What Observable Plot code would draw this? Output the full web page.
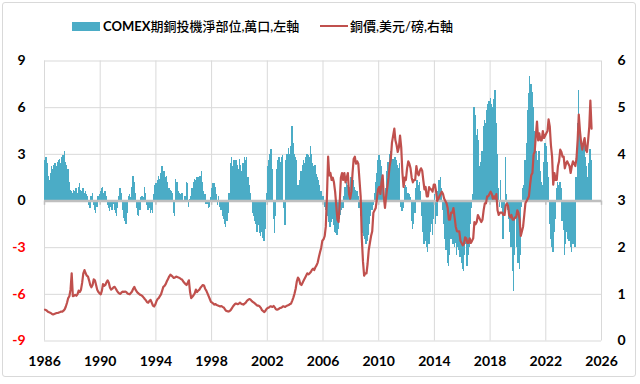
<!DOCTYPE html>
<html><head><meta charset="utf-8">
<script src="https://cdn.jsdelivr.net/npm/d3@7"></script>
<script src="https://cdn.jsdelivr.net/npm/@observablehq/plot@0.6"></script>
<style>
body{margin:0;background:#fff;}
#wrap{position:relative;width:640px;height:384px;overflow:hidden;font-family:Lato,"Noto Sans CJK TC",sans-serif;}
#frame{position:absolute;left:2px;top:2px;width:634px;height:375px;border:1px solid #d9d9d9;border-radius:3px;box-sizing:border-box;}
.sw{position:absolute;}
.lg{position:absolute;top:17px;font-size:13px;line-height:18px;color:#000;white-space:nowrap;font-family:Lato,"Noto Sans CJK TC",sans-serif;}
#chart{position:absolute;left:0;top:45px;}
</style></head>
<body>
<div id="wrap">
  <div id="frame"></div>
  <div class="sw" style="left:72px;top:22px;width:28px;height:9px;background:#4BACC6;"></div>
  <div class="lg" style="left:103px;"><b>COMEX</b><span style="font-weight:500">期銅投機淨部位,萬口,左軸</span></div>
  <div class="sw" style="left:320px;top:25px;width:28px;height:2px;background:#C0504D;"></div>
  <div class="lg" style="left:350px;"><span style="font-weight:500">銅價,美元/磅,右軸</span></div>
  <div id="chart"></div>
</div>
<script>
const startYear = 1986;
const xTickYears = [1986, 1990, 1994, 1998, 2002, 2006, 2010, 2014, 2018, 2022, 2026];
const leftTicks = [-9, -6, -3, 0, 3, 6, 9];
const rightTicks = [0, 1, 2, 3, 4, 5, 6];

// COMEX copper speculative net position, 10k contracts (monthly, from Jan 1986)
const netPos = [
  2.6, 2.8, 2.4, 1.6, 1.3, 1.8, 2.2, 2.0, 2.3, 2.4, 2.2, 2.5,
  2.6, 2.7, 2.4, 2.8, 2.9, 3.2, 2.5, 2.3, 2.0, 1.2, 0.7, 0.6,
  0.5, 0.7, 0.6, 0.8, 0.5, 0.9, 1.1, 0.7, 0.6, 0.8, 0.5, 0.6,
  0.4, 0.3, -0.3, -0.5, 0.3, 0.5, -0.3, -0.6, -0.8, -0.4, 0.3, 0.4,
  0.6, 0.8, 0.9, 0.5, 0.6, 0.3, -0.3, -0.5, -0.7, -0.4, -0.6, -0.2,
  -0.6, -0.8, -1.0, -0.5, 0.3, 0.8, 0.5, -0.6, -1.1, -1.3, -1.5, -0.8,
  0.3, 0.4, 0.2, 0.9, 1.6, 1.2, 0.5, -0.5, -0.9, -1.0, -0.6, 0.2,
  0.3, 0.2, 0.9, 0.5, -0.3, -0.6, -0.5, -0.8, -0.6, -0.8, 0.4, 1.0,
  1.1, 1.3, 1.6, 1.4, 1.8, 2.2, 1.7, 1.9, 1.5, 1.6, 1.2, 0.8,
  0.7, 0.6, 0.5, -0.8, -1.0, 1.4, 1.2, 0.6, 0.5, 0.4, 0.5, 0.5,
  -0.1, 0.3, 1.2, 1.1, -0.4, 0.1, 0.3, 0.8, 1.2, 1.4, 1.3, 1.5,
  1.5, 1.3, 1.6, 1.9, 1.2, 0.6, 0.4, -0.2, -0.2, -0.5, -0.4, 0.2,
  0.8, 1.1, 1.1, 0.9, 0.4, -0.3, 0.3, -0.4, -0.6, -1.0, -1.2, -1.5,
  -1.7, -1.3, -0.8, 0.5, 2.4, 2.8, 2.2, 2.6, 2.0, 2.6, 2.3, 2.0,
  2.7, 2.3, 1.9, 2.4, 2.8, 2.6, 2.8, 1.5, 1.0, 0.5, 0.0, -0.8,
  -1.0, -1.3, -1.5, -2.0, -1.6, -2.1, -2.3, -2.0, -2.4, -2.6, -1.8, 0.5,
  2.2, 2.6, 3.0, 3.3, 2.0, -1.2, -2.1, -1.0, 2.0, 2.6, 2.8, 2.5,
  2.8, 2.9, -0.5, -1.6, 2.6, 3.0, 3.4, 3.0, 3.5, 4.8, 3.7, 3.0,
  2.8, 2.6, 1.0, 1.0, 1.3, 1.9, 2.3, 2.6, 2.4, 2.8, 3.0, 2.9,
  2.8, 3.5, 3.0, 2.4, 2.2, 2.3, 1.7, 1.5, 1.3, 1.0, 0.6, 0.3,
  0.3, -0.4, -0.6, -0.9, -1.0, -1.4, -1.7, -1.4, -1.2, -1.6, -2.0, -2.1,
  -2.2, -1.8, -1.2, -0.9, -0.6, -0.5, 0.3, 0.9, 1.2, 1.0, 0.6, 0.9,
  1.5, 1.9, 1.3, 0.9, 0.7, 0.6, 0.3, -0.5, -1.0, -1.6, -2.1, -2.3,
  -2.5, -2.8, -2.6, -2.2, -1.5, -1.0, -0.6, -0.3, 0.5, 1.2, 1.8, 2.6,
  2.9, 2.6, 2.2, 1.6, 0.3, 0.0, 0.8, 1.9, 2.5, 3.0, 3.2, 2.8,
  2.7, 2.6, 2.8, 2.6, 2.3, 2.1, 2.4, -0.4, -0.7, -0.5, 0.9, 1.0,
  0.9, 0.5, 0.4, 0.2, -1.3, -1.8, -1.5, -0.8, 0.8, 1.3, 1.0, 1.2,
  0.6, -1.0, -2.0, -2.8, -2.6, -3.0, -3.3, -2.8, -2.0, -1.5, -2.2, -1.2,
  0.4, -1.5, -1.0, 0.6, 1.3, 1.5, 0.8, -0.6, -1.5, -2.5, -3.2, -4.0,
  -4.2, -3.5, -2.5, -2.0, -2.8, -3.0, -2.7, -3.5, -3.0, -3.2, -3.6, -4.0,
  -4.4, -4.5, -3.5, -2.8, -4.2, -3.5, -3.0, -1.5, -0.5, 0.4, 6.0, 5.5,
  4.2, 4.6, 3.9, 2.2, 2.5, 3.2, 4.8, 5.2, 5.0, 5.8, 6.2, 6.4,
  6.6, 6.2, 6.0, 6.5, 7.1, 5.0, 3.0, 0.8, -0.4, 1.3, -0.5, -2.5,
  -1.0, 2.8, 0.4, -0.6, -1.2, -2.0, -3.0, -4.5, -5.8, -3.5, -1.2, -3.0,
  -4.0, -4.4, -3.5, -0.4, 0.8, 1.0, 2.6, 3.7, 5.8, 6.9, 8.0, 7.5,
  7.0, 6.0, 4.5, 3.8, 3.2, 2.6, 3.2, 1.9, 1.2, 1.0, 2.5, 3.7,
  3.5, 2.5, 1.5, -1.5, -2.5, -3.0, -3.3, -2.0, -1.2, 0.8, 1.2, 1.0,
  1.2, 0.8, -1.3, -1.9, -3.5, -2.8, -2.0, -2.5, -2.6, -3.0, -3.3, -2.8,
  -2.8, -3.0, 1.5, 5.0, 7.1, 5.0, 3.8, 3.0, 3.6, 3.8, 2.8, 2.2,
  1.5, 2.4, 3.3, 2.6
];

// Copper price, USD/lb (monthly, from Jan 1986)
const copper = [
  0.67, 0.66, 0.64, 0.62, 0.61, 0.60, 0.58, 0.57, 0.58, 0.59, 0.60, 0.60,
  0.61, 0.62, 0.63, 0.63, 0.65, 0.68, 0.74, 0.82, 0.92, 0.96, 1.10, 1.45,
  0.96, 0.97, 0.99, 0.97, 1.00, 1.08, 1.05, 1.10, 1.25, 1.45, 1.52, 1.45,
  1.40, 1.38, 1.30, 1.20, 1.15, 1.20, 1.32, 1.30, 1.20, 1.10, 1.05, 1.02,
  1.00, 1.08, 1.22, 1.18, 1.20, 1.26, 1.30, 1.25, 1.14, 1.10, 1.12, 1.15,
  1.16, 1.12, 1.08, 1.04, 1.02, 1.01, 1.04, 1.06, 1.05, 1.06, 1.05, 1.02,
  1.01, 1.00, 1.03, 1.06, 1.12, 1.16, 1.10, 1.06, 1.03, 1.01, 0.99, 0.98,
  0.96, 0.93, 0.90, 0.87, 0.83, 0.82, 0.86, 0.88, 0.82, 0.76, 0.74, 0.78,
  0.85, 0.90, 0.92, 0.96, 1.00, 1.08, 1.16, 1.18, 1.22, 1.28, 1.33, 1.38,
  1.42, 1.40, 1.38, 1.35, 1.36, 1.38, 1.37, 1.36, 1.35, 1.33, 1.32, 1.28,
  1.25, 1.22, 1.20, 1.25, 1.30, 1.05, 0.92, 0.95, 0.98, 1.02, 1.10, 1.05,
  1.08, 1.10, 1.14, 1.17, 1.20, 1.19, 1.12, 1.08, 1.02, 0.96, 0.90, 0.84,
  0.82, 0.80, 0.78, 0.79, 0.77, 0.76, 0.75, 0.74, 0.75, 0.73, 0.72, 0.68,
  0.65, 0.64, 0.63, 0.64, 0.66, 0.70, 0.74, 0.77, 0.80, 0.80, 0.79, 0.80,
  0.82, 0.80, 0.79, 0.78, 0.80, 0.82, 0.86, 0.88, 0.90, 0.89, 0.86, 0.84,
  0.82, 0.80, 0.78, 0.76, 0.76, 0.74, 0.71, 0.66, 0.64, 0.62, 0.65, 0.69,
  0.71, 0.72, 0.74, 0.74, 0.73, 0.75, 0.72, 0.68, 0.67, 0.68, 0.70, 0.71,
  0.72, 0.74, 0.74, 0.73, 0.75, 0.76, 0.77, 0.79, 0.80, 0.86, 0.93, 1.01,
  1.12, 1.28, 1.36, 1.32, 1.22, 1.20, 1.25, 1.30, 1.35, 1.40, 1.45, 1.43,
  1.45, 1.48, 1.52, 1.55, 1.52, 1.58, 1.62, 1.68, 1.80, 1.90, 2.00, 2.15,
  2.18, 2.25, 2.45, 3.10, 3.95, 3.55, 3.60, 3.45, 3.50, 3.40, 3.20, 2.90,
  2.60, 2.55, 2.95, 3.50, 3.60, 3.45, 3.60, 3.40, 3.50, 3.60, 3.15, 3.05,
  3.20, 3.60, 3.90, 3.95, 3.80, 3.85, 3.80, 3.45, 3.10, 2.20, 1.70, 1.40,
  1.45, 1.45, 1.65, 1.95, 2.10, 2.25, 2.35, 2.75, 2.80, 2.85, 3.05, 3.25,
  3.30, 3.15, 3.40, 3.55, 3.10, 2.85, 3.10, 3.30, 3.50, 3.75, 3.90, 4.25,
  4.40, 4.55, 4.30, 4.20, 4.05, 4.15, 4.40, 4.15, 3.60, 3.30, 3.50, 3.45,
  3.70, 3.85, 3.80, 3.70, 3.50, 3.40, 3.45, 3.45, 3.75, 3.60, 3.55, 3.65,
  3.70, 3.65, 3.45, 3.25, 3.30, 3.10, 3.10, 3.30, 3.25, 3.25, 3.20, 3.35,
  3.35, 3.20, 3.00, 3.05, 3.10, 3.15, 3.20, 3.15, 3.05, 3.00, 2.95, 2.85,
  2.60, 2.60, 2.75, 2.75, 2.85, 2.65, 2.45, 2.35, 2.35, 2.35, 2.15, 2.10,
  2.05, 2.08, 2.22, 2.20, 2.10, 2.10, 2.20, 2.10, 2.15, 2.20, 2.55, 2.50,
  2.55, 2.70, 2.65, 2.60, 2.55, 2.60, 2.80, 2.95, 2.95, 3.10, 3.10, 3.15,
  3.20, 3.15, 3.05, 3.10, 3.05, 3.15, 2.80, 2.70, 2.75, 2.75, 2.75, 2.70,
  2.70, 2.90, 2.95, 2.90, 2.70, 2.65, 2.70, 2.60, 2.60, 2.65, 2.65, 2.80,
  2.75, 2.60, 2.25, 2.35, 2.45, 2.70, 2.95, 3.00, 3.05, 3.10, 3.35, 3.55,
  3.60, 4.00, 4.05, 4.40, 4.70, 4.30, 4.45, 4.30, 4.30, 4.50, 4.35, 4.40,
  4.45, 4.50, 4.75, 4.60, 4.20, 3.95, 3.35, 3.60, 3.45, 3.45, 3.75, 3.85,
  4.10, 4.05, 3.95, 3.95, 3.70, 3.80, 3.85, 3.80, 3.75, 3.60, 3.75, 3.85,
  3.80, 3.75, 3.90, 4.30, 4.85, 4.50, 4.25, 4.10, 4.25, 4.35, 4.10, 4.05,
  4.30, 4.60, 5.15, 4.55
];

const bars = netPos.map((v, i) => ({
  x1: new Date(Date.UTC(startYear, i, 1)),
  x2: new Date(Date.UTC(startYear, i + 1, 8)),
  v
}));
const priceLine = copper.map((p, i) => ({date: new Date(Date.UTC(startYear, i, 15)), p}));
const xTickDates = xTickYears.map(y => new Date(Date.UTC(y, 0, 1)));
const toLeft = r => (r - 3) * 3;

const chart = Plot.plot({
  width: 640,
  height: 339,
  marginLeft: 44,
  marginRight: 39,
  marginTop: 15.5,
  marginBottom: 43.5,
  style: {fontFamily: "Lato, sans-serif", fontSize: "14px", fontWeight: "bold", background: "transparent", overflow: "visible", color: "#000"},
  x: {type: "utc", domain: [xTickDates[0], xTickDates[xTickDates.length - 1]], label: null},
  y: {domain: [-9, 9], label: null},
  marks: [
    Plot.gridX(xTickDates, {stroke: "#d9d9d9", strokeOpacity: 1, strokeWidth: 1}),
    Plot.gridY(leftTicks, {stroke: "#d9d9d9", strokeOpacity: 1, strokeWidth: 1}),
    Plot.rect(bars, {x1: "x1", x2: "x2", y1: 0, y2: "v", fill: "#4BACC6", inset: 0, shapeRendering: "crispEdges"}),
    Plot.ruleY([0], {stroke: "#bfbfbf", strokeWidth: 2.5}),
    Plot.ruleX(xTickDates, {y1: 0, y2: -0.28, stroke: "#bfbfbf", strokeWidth: 1.5}),
    Plot.line(priceLine, {x: "date", y: d => toLeft(d.p), stroke: "#C0504D", strokeWidth: 2.2}),
    Plot.axisX(xTickDates, {tickSize: 0, tickPadding: 15, tickFormat: d3.utcFormat("%Y"), label: null}),
    Plot.axisY(leftTicks.filter(d => d >= 0), {anchor: "left", tickSize: 0, tickPadding: 19, tickFormat: d => String(d), label: null}),
    Plot.axisY(leftTicks.filter(d => d < 0), {anchor: "left", tickSize: 0, tickPadding: 19, tickFormat: d => String(d), fill: "#ff0000", label: null}),
    Plot.axisY(rightTicks.map(toLeft), {anchor: "right", tickSize: 0, tickPadding: 16, tickFormat: v => String(v / 3 + 3), label: null})
  ]
});
document.getElementById("chart").appendChild(chart);
</script>
</body></html>
